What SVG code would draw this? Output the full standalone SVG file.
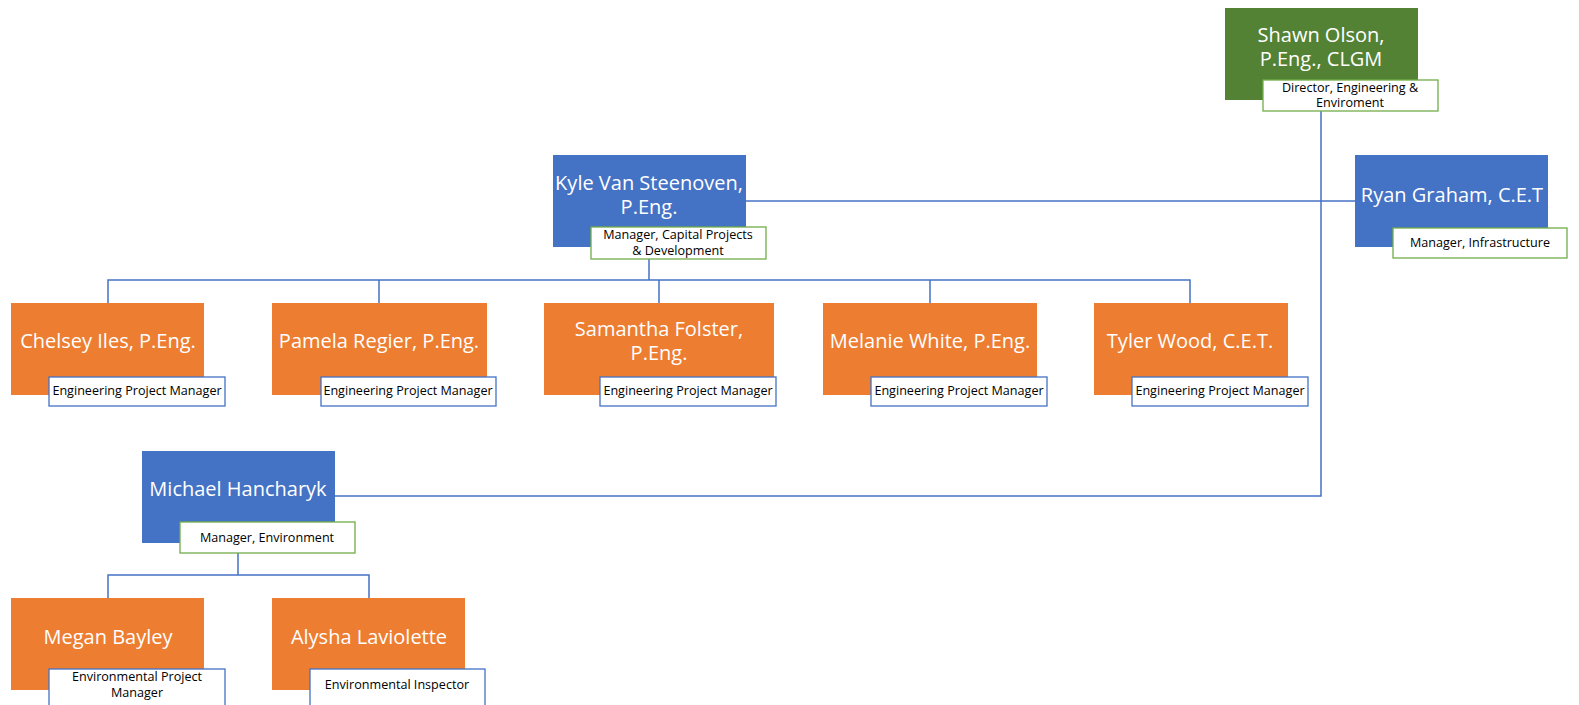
<svg xmlns="http://www.w3.org/2000/svg" width="1579" height="705" viewBox="0 0 1579 705">
<style>
.orange{fill:#ED7D31}
.blue{fill:#4472C4}
.green{fill:#548235}
.name{font-family:"Open Sans","Liberation Sans",sans-serif;font-size:20px;fill:#FFFFFF;text-anchor:middle}
.lbl{font-family:"Open Sans","Liberation Sans",sans-serif;font-size:12.6px;fill:#000000;text-anchor:middle}
.lg{fill:#FFFFFF;stroke:#70AD47;stroke-width:1.3}
.lb{fill:#FFFFFF;stroke:#4472C4;stroke-width:1.3}
.conn{fill:none;stroke:#4472C4;stroke-width:1.5}
</style>
<rect width="1579" height="705" fill="#FFFFFF"/>
<g id="connectors">
<path class="conn" d="M1321,111 V496 H335"/>
<path class="conn" d="M746,201 H1355"/>
<path class="conn" d="M649,259 V280 M108,303 V280 H1190 V303 M379,280 V303 M659,280 V303 M930,280 V303"/>
<path class="conn" d="M238,553 V575 M108,598 V575 H369 V598"/>
</g>
<g id="shawn">
<rect class="green" x="1225" y="8" width="193" height="92"/>
<text class="name" x="1321" y="42">Shawn Olson,</text>
<text class="name" x="1321" y="66">P.Eng., CLGM</text>
<rect class="lg" x="1263" y="80" width="175" height="31"/>
<text class="lbl" x="1350" y="92">Director, Engineering &amp;</text>
<text class="lbl" x="1350" y="107">Enviroment</text>
</g>
<g id="ryan">
<rect class="blue" x="1355" y="155" width="193" height="92"/>
<text class="name" x="1452" y="202">Ryan Graham, C.E.T</text>
<rect class="lg" x="1393" y="228" width="174" height="30"/>
<text class="lbl" x="1480" y="247">Manager, Infrastructure</text>
</g>
<g id="kyle">
<rect class="blue" x="553" y="155" width="193" height="92"/>
<text class="name" x="649" y="190">Kyle Van Steenoven,</text>
<text class="name" x="649" y="214">P.Eng.</text>
<rect class="lg" x="591" y="227" width="175" height="32"/>
<text class="lbl" x="678" y="239">Manager, Capital Projects</text>
<text class="lbl" x="678" y="255">&amp; Development</text>
</g>
<g id="chelsey">
<rect class="orange" x="11" y="303" width="193" height="92"/>
<text class="name" x="108" y="348">Chelsey Iles, P.Eng.</text>
<rect class="lb" x="49" y="377" width="176" height="29"/>
<text class="lbl" x="137" y="395">Engineering Project Manager</text>
</g>
<g id="pamela">
<rect class="orange" x="272" y="303" width="215" height="92"/>
<text class="name" x="379" y="348">Pamela Regier, P.Eng.</text>
<rect class="lb" x="321" y="377" width="175" height="29"/>
<text class="lbl" x="408" y="395">Engineering Project Manager</text>
</g>
<g id="samantha">
<rect class="orange" x="544" y="303" width="230" height="92"/>
<text class="name" x="659" y="336">Samantha Folster,</text>
<text class="name" x="659" y="360">P.Eng.</text>
<rect class="lb" x="600" y="377" width="176" height="29"/>
<text class="lbl" x="688" y="395">Engineering Project Manager</text>
</g>
<g id="melanie">
<rect class="orange" x="823" y="303" width="214" height="92"/>
<text class="name" x="930" y="348">Melanie White, P.Eng.</text>
<rect class="lb" x="871" y="377" width="176" height="29"/>
<text class="lbl" x="959" y="395">Engineering Project Manager</text>
</g>
<g id="tyler">
<rect class="orange" x="1094" y="303" width="194" height="92"/>
<text class="name" x="1190" y="348">Tyler Wood, C.E.T.</text>
<rect class="lb" x="1132" y="377" width="176" height="29"/>
<text class="lbl" x="1220" y="395">Engineering Project Manager</text>
</g>
<g id="michael">
<rect class="blue" x="142" y="451" width="193" height="92"/>
<text class="name" x="238" y="496">Michael Hancharyk</text>
<rect class="lg" x="180" y="522" width="175" height="31"/>
<text class="lbl" x="267" y="542">Manager, Environment</text>
</g>
<g id="megan">
<rect class="orange" x="11" y="598" width="193" height="92"/>
<text class="name" x="108" y="644">Megan Bayley</text>
<rect class="lb" x="49" y="669" width="176" height="40"/>
<text class="lbl" x="137" y="681">Environmental Project</text>
<text class="lbl" x="137" y="697">Manager</text>
</g>
<g id="alysha">
<rect class="orange" x="272" y="598" width="193" height="92"/>
<text class="name" x="369" y="644">Alysha Laviolette</text>
<rect class="lb" x="310" y="669" width="175" height="40"/>
<text class="lbl" x="397" y="689">Environmental Inspector</text>
</g>
</svg>
